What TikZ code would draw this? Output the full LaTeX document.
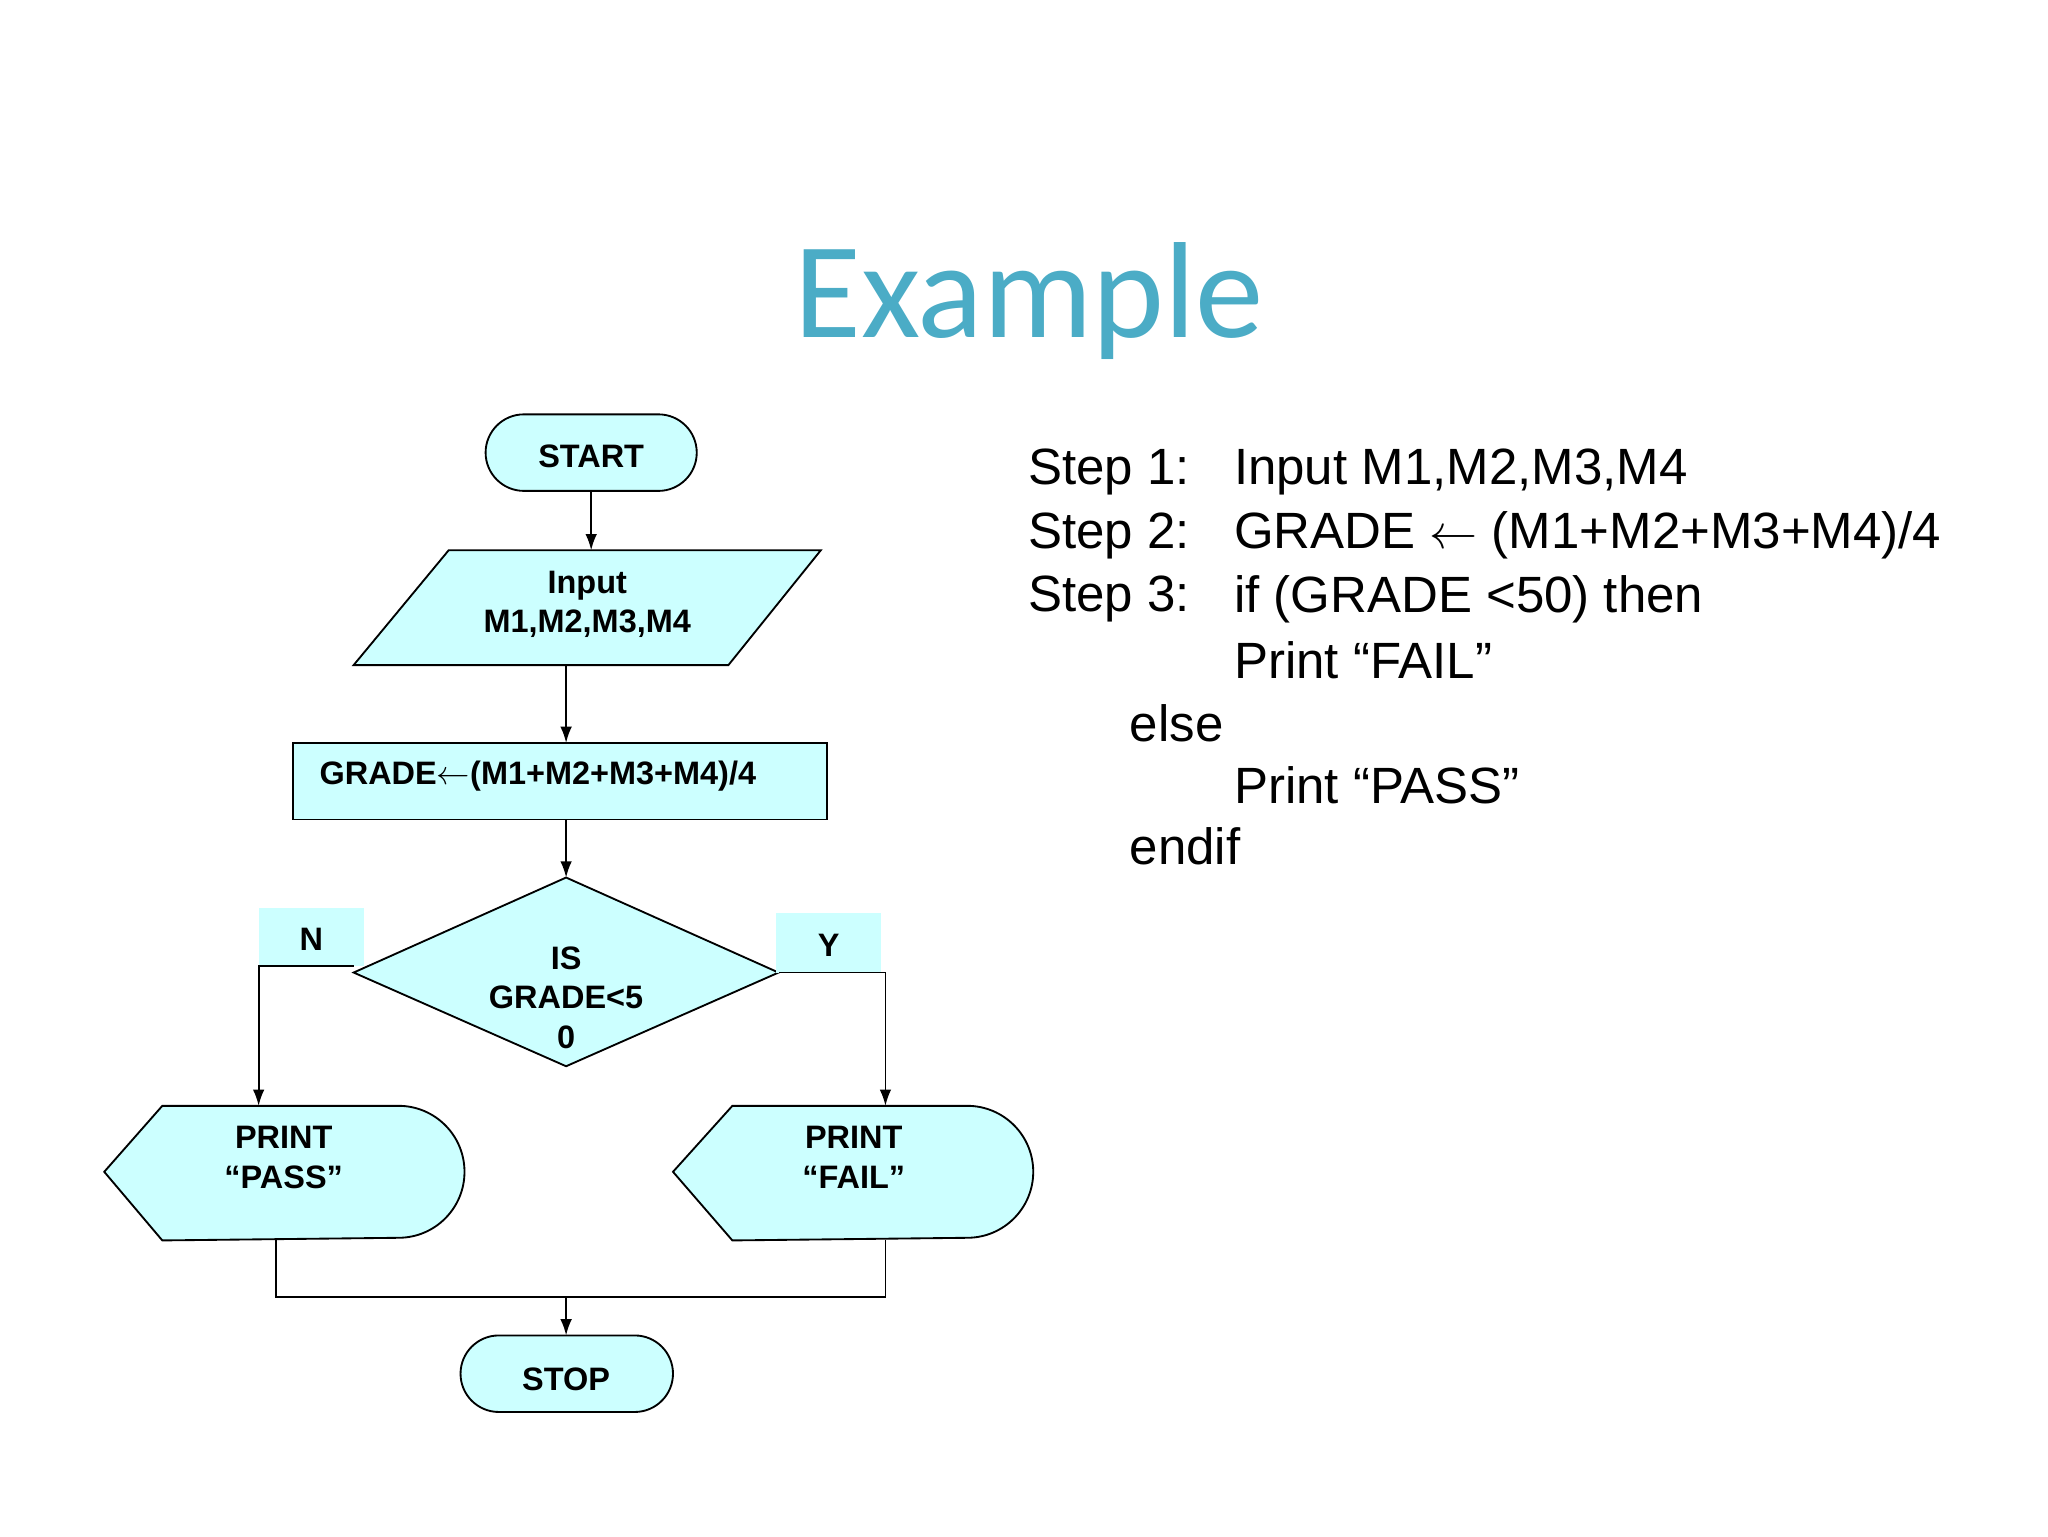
\documentclass[tikz,border=0pt]{standalone}
\usepackage{fontspec}
\setmainfont{Liberation Sans}
\newfontfamily\titlefont{Carlito}
\usetikzlibrary{arrows.meta}
\definecolor{boxcyan}{HTML}{CCFFFF}
\definecolor{titleblue}{HTML}{4BACC6}
\tikzset{
  box/.style={draw=black, fill=boxcyan, line width=0.8pt},
  lbl/.style={font=\fontsize{14}{17}\selectfont\bfseries, align=center},
  flow/.style={line width=0.8pt, -{Latex[length=7pt,width=5pt]}},
  link/.style={line width=0.8pt},
  steptext/.style={font=\fontsize{22}{26}\selectfont, anchor=west}
}
\begin{document}
\begin{tikzpicture}[x=0.02cm, y=-0.02cm]
    \useasboundingbox[fill=white] (0,0) rectangle (1552,1164);

    % title
    \node[text=titleblue, font=\titlefont\fontsize{59}{64}\selectfont] (title) at (780,228) {Example};

    % shapes
    \filldraw[box, rounded corners=29*0.02cm] (368,314) rectangle (528,372);
    \node[lbl] (start) at (448,346) {START};
    \filldraw[box] (340,417) -- (622,417) -- (552,504) -- (268,504) -- cycle;
    \node[lbl] (input) at (445,458) {Input\\M1,M2,M3,M4};
    \filldraw[box] (222,563) rectangle (627,621);
    \node[lbl, anchor=west] (grade) at (236,588) {GRADE$\leftarrow$(M1+M2+M3+M4)/4};
    \filldraw[box] (268,737) -- (429,665) -- (590,737) -- (429,808) -- cycle;
    \node[lbl] (test) at (429,756) {IS\\GRADE<5\\0};
    \fill[boxcyan] (196,688) rectangle (276,732);
    \node[lbl] (no) at (236,712) {N};
    \fill[boxcyan] (588,692) rectangle (668,737);
    \node[lbl] (yes) at (628,716) {Y};
    \filldraw[box] (79,888) -- (123,838) -- (302,838) arc[start angle=90, end angle=-90, radius=50*0.02cm] -- (123,940) -- cycle;
    \node[lbl] (pass) at (215,877) {PRINT\\“PASS”};
    \filldraw[box] (510,888) -- (555,838) -- (733,838) arc[start angle=90, end angle=-90, radius=50*0.02cm] -- (555,940) -- cycle;
    \node[lbl] (fail) at (647,877) {PRINT\\“FAIL”};
    \filldraw[box, rounded corners=29*0.02cm] (349,1012) rectangle (510,1070);
    \node[lbl] (stop) at (429,1045) {STOP};

    % connectors
    \coordinate (startS) at (448,372);
    \coordinate (inputN) at (448,417);
    \coordinate (inputS) at (429,504);
    \coordinate (gradeN) at (429,563);
    \coordinate (gradeS) at (429,621);
    \coordinate (testN) at (429,665);
    \coordinate (testW) at (268,732);
    \coordinate (testE) at (590,737);
    \coordinate (passN) at (196,838);
    \coordinate (failN) at (671,838);
    \coordinate (passS) at (209,940);
    \coordinate (failS) at (671,940);
    \coordinate (joinM) at (429,983);
    \coordinate (stopN) at (429,1012);
    \draw[flow] (startS) -- (inputN);
    \draw[flow] (inputS) -- (gradeN);
    \draw[flow] (gradeS) -- (testN);
    \draw[flow] (testW) -| (passN);
    \draw[flow] (testE) -| (failN);
    \draw[link] (passS) |- (joinM) -| (failS);
    \draw[flow] (joinM) -- (stopN);

    % steps
    \node[steptext] (s1) at (773,358) {Step 1:};
    \node[steptext] (s2) at (773,406) {Step 2:};
    \node[steptext] (s3) at (773,454) {Step 3:};
    \node[steptext] (t1) at (929,358) {Input M1,M2,M3,M4};
    \node[steptext] (t2) at (929,406) {GRADE $\leftarrow$ (M1+M2+M3+M4)/4};
    \node[steptext] (t3) at (929,454) {if (GRADE <50) then};
    \node[steptext] (t4) at (929,500) {Print “FAIL”};
    \node[steptext] (t5) at (850,548) {else};
    \node[steptext] (t6) at (929,595) {Print “PASS”};
    \node[steptext] (t7) at (850,641) {endif};
\end{tikzpicture}
\end{document}
